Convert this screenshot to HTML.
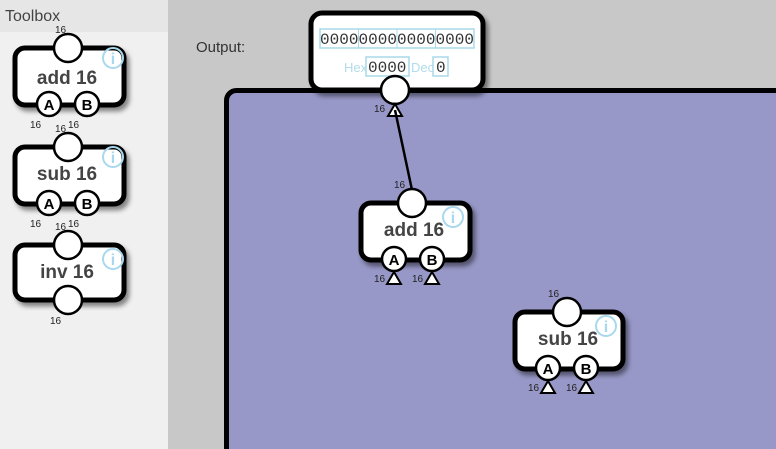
<!DOCTYPE html>
<html><head><style>
html,body{margin:0;padding:0;width:776px;height:449px;overflow:hidden;background:#c8c8c8}
svg{display:block}
text{font-family:"Liberation Sans",sans-serif}
text.m{font-family:"Liberation Mono",monospace}
</style></head><body>
<svg width="776" height="449" viewBox="0 0 776 449" overflow="hidden">
<defs>
<filter id="sh" x="-20%" y="-20%" width="150%" height="150%"><feDropShadow dx="3" dy="4" stdDeviation="2.5" flood-color="#000" flood-opacity="0.45"/></filter>
</defs>
<rect x="0" y="0" width="168" height="449" fill="#f0f0f0"/>
<rect x="0" y="0" width="168" height="32" fill="#e6e6e6"/>
<text x="5" y="21" font-size="16" fill="#444">Toolbox</text>
<text x="196" y="52" font-size="15" fill="#333">Output:</text>

<!-- purple area -->
<path d="M226.5,449 V100.5 a10,10 0 0 1 10,-10 H776 V449 Z" fill="#9898c8"/>
<path d="M226.5,449 V100.5 a10,10 0 0 1 10,-10 H776" fill="none" stroke="#000" stroke-width="5"/>

<!-- output box -->
<rect x="311" y="13" width="172" height="77" rx="11" fill="#fff" stroke="#000" stroke-width="5" filter="url(#sh)"/>
<rect x="320" y="29" width="154" height="19" fill="none" stroke="#a8d8e8" stroke-width="1.5"/>
<line x1="358.5" y1="29" x2="358.5" y2="48" stroke="#a8d8e8"/><line x1="397" y1="29" x2="397" y2="48" stroke="#a8d8e8"/><line x1="435.5" y1="29" x2="435.5" y2="48" stroke="#a8d8e8"/>
<text class="m" x="320" y="44" font-size="16" fill="#333" textLength="154">0000000000000000</text>
<rect x="366" y="57" width="43" height="19" fill="none" stroke="#a8d8e8" stroke-width="1.5"/>
<text class="m" x="368" y="72" font-size="16" fill="#333">0000</text>
<rect x="433" y="57" width="15" height="19" fill="none" stroke="#a8d8e8" stroke-width="1.5"/>
<text class="m" x="436" y="72" font-size="16" fill="#333">0</text>
<text x="344" y="72" font-size="13" fill="#b0dcec">Hex</text>
<text x="411" y="72" font-size="13" fill="#b0dcec">Dec</text>
<circle cx="395" cy="90" r="14" fill="#fff" stroke="#000" stroke-width="2.5"/>
<text x="374" y="112" font-size="10" fill="#222">16</text>
<polygon points="395,104 388,116 402,116" fill="#fff" stroke="#000" stroke-width="2"/>
<line x1="395" y1="110" x2="412" y2="190" stroke="#000" stroke-width="2.5"/>

<!-- toolbox add -->
<g transform="translate(15,48)">
<rect x="0" y="0" width="109" height="57" rx="10" fill="#fff" stroke="#000" stroke-width="5" filter="url(#sh)"/>
<circle cx="53" cy="0" r="14" fill="#fff" stroke="#000" stroke-width="2.5"/>
<text x="40" y="-15" font-size="10" fill="#222">16</text>
<circle cx="98" cy="10" r="10" fill="none" stroke="#a8d8ee" stroke-width="2"/><text x="98" y="16" font-size="16" font-weight="bold" fill="#a8d8ee" text-anchor="middle">i</text>
<text x="52" y="36" font-size="19" font-weight="bold" fill="#444" text-anchor="middle">add 16</text>
<circle cx="34" cy="56" r="12" fill="#fff" stroke="#000" stroke-width="2.5"/><text x="34" y="62" font-size="15" font-weight="bold" text-anchor="middle">A</text>
<circle cx="72" cy="56" r="12" fill="#fff" stroke="#000" stroke-width="2.5"/><text x="72" y="62" font-size="15" font-weight="bold" text-anchor="middle">B</text>
<text x="15" y="80" font-size="10" fill="#222">16</text><text x="53" y="80" font-size="10" fill="#222">16</text>
</g>
<!-- toolbox sub -->
<g transform="translate(15,147)">
<rect x="0" y="0" width="109" height="57" rx="10" fill="#fff" stroke="#000" stroke-width="5" filter="url(#sh)"/>
<circle cx="53" cy="0" r="14" fill="#fff" stroke="#000" stroke-width="2.5"/>
<text x="40" y="-15" font-size="10" fill="#222">16</text>
<circle cx="98" cy="10" r="10" fill="none" stroke="#a8d8ee" stroke-width="2"/><text x="98" y="16" font-size="16" font-weight="bold" fill="#a8d8ee" text-anchor="middle">i</text>
<text x="52" y="33" font-size="19" font-weight="bold" fill="#444" text-anchor="middle">sub 16</text>
<circle cx="34" cy="56" r="12" fill="#fff" stroke="#000" stroke-width="2.5"/><text x="34" y="62" font-size="15" font-weight="bold" text-anchor="middle">A</text>
<circle cx="72" cy="56" r="12" fill="#fff" stroke="#000" stroke-width="2.5"/><text x="72" y="62" font-size="15" font-weight="bold" text-anchor="middle">B</text>
<text x="15" y="80" font-size="10" fill="#222">16</text><text x="53" y="80" font-size="10" fill="#222">16</text>
</g>
<!-- toolbox inv -->
<g transform="translate(15,245)">
<rect x="0" y="0" width="109" height="55" rx="10" fill="#fff" stroke="#000" stroke-width="5" filter="url(#sh)"/>
<circle cx="53" cy="0" r="14" fill="#fff" stroke="#000" stroke-width="2.5"/>
<text x="40" y="-15" font-size="10" fill="#222">16</text>
<circle cx="98" cy="14" r="10" fill="none" stroke="#a8d8ee" stroke-width="2"/><text x="98" y="20" font-size="16" font-weight="bold" fill="#a8d8ee" text-anchor="middle">i</text>
<text x="52" y="33" font-size="19" font-weight="bold" fill="#444" text-anchor="middle">inv 16</text>
<circle cx="53" cy="55" r="14" fill="#fff" stroke="#000" stroke-width="2.5"/>
<text x="35" y="79" font-size="10" fill="#222">16</text>
</g>
<!-- canvas add -->
<g transform="translate(361,203)">
<rect x="0" y="0" width="109" height="57" rx="10" fill="#fff" stroke="#000" stroke-width="5" filter="url(#sh)"/>
<circle cx="51" cy="0" r="14" fill="#fff" stroke="#000" stroke-width="2.5"/>
<text x="33" y="-15" font-size="10" fill="#222">16</text>
<circle cx="92" cy="14" r="10" fill="none" stroke="#a8d8ee" stroke-width="2"/><text x="92" y="20" font-size="16" font-weight="bold" fill="#a8d8ee" text-anchor="middle">i</text>
<text x="53" y="33" font-size="19" font-weight="bold" fill="#444" text-anchor="middle">add 16</text>
<circle cx="33" cy="56" r="12" fill="#fff" stroke="#000" stroke-width="2.5"/><text x="33" y="62" font-size="15" font-weight="bold" text-anchor="middle">A</text>
<circle cx="71" cy="56" r="12" fill="#fff" stroke="#000" stroke-width="2.5"/><text x="71" y="62" font-size="15" font-weight="bold" text-anchor="middle">B</text>
<polygon points="33,69 26,81 40,81" fill="#fff" stroke="#000" stroke-width="2"/>
<polygon points="71,69 64,81 78,81" fill="#fff" stroke="#000" stroke-width="2"/>
<text x="13" y="79" font-size="10" fill="#222">16</text><text x="51" y="79" font-size="10" fill="#222">16</text>
</g>
<!-- canvas sub -->
<g transform="translate(515,312)">
<rect x="0" y="0" width="108" height="57" rx="10" fill="#fff" stroke="#000" stroke-width="5" filter="url(#sh)"/>
<circle cx="52" cy="0" r="14" fill="#fff" stroke="#000" stroke-width="2.5"/>
<text x="33" y="-15" font-size="10" fill="#222">16</text>
<circle cx="91" cy="14" r="10" fill="none" stroke="#a8d8ee" stroke-width="2"/><text x="91" y="20" font-size="16" font-weight="bold" fill="#a8d8ee" text-anchor="middle">i</text>
<text x="53" y="33" font-size="19" font-weight="bold" fill="#444" text-anchor="middle">sub 16</text>
<circle cx="33" cy="56" r="12" fill="#fff" stroke="#000" stroke-width="2.5"/><text x="33" y="62" font-size="15" font-weight="bold" text-anchor="middle">A</text>
<circle cx="71" cy="56" r="12" fill="#fff" stroke="#000" stroke-width="2.5"/><text x="71" y="62" font-size="15" font-weight="bold" text-anchor="middle">B</text>
<polygon points="33,69 26,81 40,81" fill="#fff" stroke="#000" stroke-width="2"/>
<polygon points="71,69 64,81 78,81" fill="#fff" stroke="#000" stroke-width="2"/>
<text x="13" y="79" font-size="10" fill="#222">16</text><text x="51" y="79" font-size="10" fill="#222">16</text>
</g>
</svg>
</body></html>
